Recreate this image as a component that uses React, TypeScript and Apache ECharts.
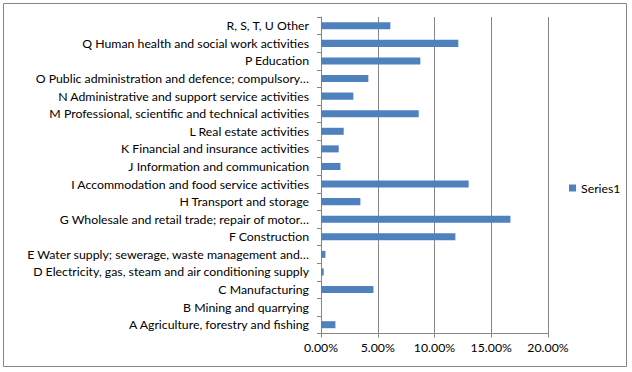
import React, { useEffect, useRef } from "react";
import * as echarts from "echarts";

const categories = [
  "A Agriculture, forestry and fishing",
  "B Mining and quarrying",
  "C Manufacturing",
  "D Electricity, gas, steam and air conditioning supply",
  "E Water supply; sewerage, waste management and…",
  "F Construction",
  "G Wholesale and retail trade; repair of motor…",
  "H Transport and storage",
  "I Accommodation and food service activities",
  "J Information and communication",
  "K Financial and insurance activities",
  "L Real estate activities",
  "M Professional, scientific and technical activities",
  "N Administrative and support service activities",
  "O Public administration and defence; compulsory…",
  "P Education",
  "Q Human health and social work activities",
  "R, S, T, U Other",
];

// percent values
const series1 = [
  1.27, 0.0, 4.62, 0.24, 0.39, 11.84, 16.69, 3.47, 13.01, 1.71, 1.56, 2.0,
  8.61, 2.85, 4.17, 8.75, 12.1, 6.11,
];

const xTicks = { min: 0, max: 20, interval: 5 };

const FONT = "Lato";
const FS = 12.3;

export default function App() {
  const ref = useRef<HTMLDivElement>(null);
  useEffect(() => {
    if (!ref.current) return;
    const chart = echarts.init(ref.current, undefined, { renderer: "svg" });
    chart.setOption({
      animation: false,
      backgroundColor: "#ffffff",
      textStyle: { fontFamily: FONT },
      graphic: [
        {
          type: "rect",
          shape: { x: 3.5, y: 3.5, width: 623, height: 363 },
          style: { fill: "none", stroke: "#868686", lineWidth: 1 },
          silent: true,
        },
      ],
      grid: { left: 321, right: 84, top: 17, bottom: 38.5, containLabel: false },
      legend: {
        data: ["Series1"],
        left: 564,
        top: 177,
        orient: "vertical",
        icon: "rect",
        itemWidth: 7,
        itemHeight: 7,
        textStyle: { fontFamily: FONT, fontSize: FS, color: "#000" },
      },
      xAxis: {
        type: "value",
        min: xTicks.min,
        max: xTicks.max,
        interval: xTicks.interval,
        axisLine: { show: true, lineStyle: { color: "#868686", width: 1 } },
        axisTick: { show: true, length: 4, lineStyle: { color: "#868686" } },
        splitLine: { show: true, lineStyle: { color: "#868686", width: 1 } },
        axisLabel: {
          formatter: (v: number) => v.toFixed(2) + "%",
          fontFamily: FONT,
          fontSize: FS,
          color: "#000",
          margin: 8,
        },
      },
      yAxis: {
        type: "category",
        data: categories,
        axisLine: { show: true, lineStyle: { color: "#868686", width: 1 } },
        axisTick: { show: true, length: 4, inside: false, lineStyle: { color: "#868686" } },
        axisLabel: {
          fontFamily: FONT,
          fontSize: FS,
          color: "#000",
          margin: 12,
        },
        splitLine: { show: false },
      },
      series: [
        {
          name: "Series1",
          type: "bar",
          data: series1,
          barCategoryGap: "60%",
          itemStyle: { color: "#4F81BD" },
        },
      ],
    });
    return () => chart.dispose();
  }, []);
  return (
    <div
      ref={ref}
      style={{ position: "fixed", left: 0, top: 0, width: 632, height: 372 }}
    />
  );
}
